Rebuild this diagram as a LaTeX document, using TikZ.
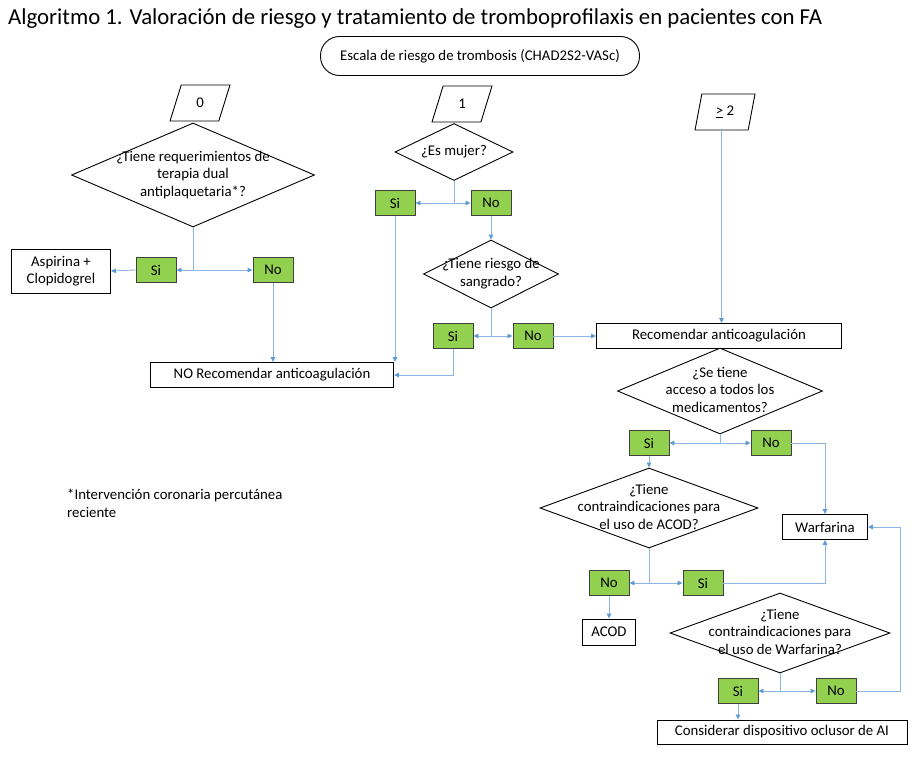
\documentclass[tikz,border=0pt]{standalone}
\usepackage{fontspec}
\setmainfont{Carlito}
\usetikzlibrary{arrows.meta, shapes.geometric, calc}
\definecolor{lineblue}{HTML}{8DB4E2}
\definecolor{tipblue}{HTML}{5B9BD5}
\definecolor{sigreen}{HTML}{92D050}
\newcommand\dtxt[1]{\smash{\raisebox{-0.25em}{\begin{tabular}{@{}c@{}}#1\end{tabular}}}}

\begin{document}
\begin{tikzpicture}[
  x=1pt, y=-1pt,
  font=\fontsize{14.8}{17.5}\selectfont,
  box/.style={
    draw, line width=0.9pt, inner sep=2pt, align=center,
    minimum height=25pt
  },
  resp/.style={
    draw=black!75, fill=sigreen, line width=0.9pt,
    minimum width=40pt, minimum height=25pt, inner sep=0pt
  },
  decis/.style={diamond, draw, line width=0.9pt, inner sep=0pt, shape aspect=3},
  entrada/.style={
    trapezium, trapezium left angle=77, trapezium right angle=103,
    trapezium stretches=true, draw, line width=0.9pt,
    minimum width=60pt, minimum height=36pt, inner sep=0pt
  },
  lin/.style={draw=lineblue, line width=0.9pt},
  arr/.style={lin, -{Triangle[length=5pt, width=4.5pt, color=tipblue]}}
]
  \useasboundingbox (0,0) rectangle (917,757);

  \node[anchor=base west, inner sep=0pt, font=\fontsize{22.8}{26}\selectfont] (titulo) at (8,25)
    {Algoritmo 1. Valoración de riesgo y tratamiento de tromboprofilaxis en pacientes con FA};
  \node[draw, line width=0.9pt, rounded corners=19pt, minimum width=319pt, minimum height=39pt] (escala) at (480,56)
    {Escala de riesgo de trombosis (CHAD2S2-VASc)};

  \node[entrada] (cero) at (200,103) {0};
  \node[entrada] (uno) at (462,104) {1};
  \node[entrada] (dos) at (725,112) {\underline{>} 2};

  \node[decis, minimum width=243pt, minimum height=104pt] (dual) at (193,175)
    {\dtxt{¿Tiene requerimientos de\\terapia dual\\antiplaquetaria*?}};
  \node[resp] (si0) at (156,270) {Si};
  \node[resp] (no0) at (273,270) {No};
  \node[box, minimum width=99pt, minimum height=44pt] (aspirina) at (61,271) {Aspirina +\\Clopidogrel};
  \node[box, minimum width=243pt] (norec) at (272,375) {NO Recomendar anticoagulación};

  \coordinate (j0) at (dual.south |- si0);
  \draw[lin] (dual.south) -- (j0);
  \draw[arr] (j0) -- (si0.east);
  \draw[arr] (j0) -- (no0.west);
  \draw[arr] (si0.west) -- (aspirina.east);
  \draw[arr] (no0.south) -- (no0.south |- norec.north);

  \node[decis, minimum width=118pt, minimum height=57pt] (mujer) at (454,152) {\dtxt{¿Es mujer?}};
  \node[resp] (si1) at (395,203) {Si};
  \node[resp] (no1) at (491,203) {No};
  \node[decis, minimum width=135pt, minimum height=68pt] (sangrado) at (491,274)
    {\dtxt{¿Tiene riesgo de\\sangrado?}};
  \node[resp] (si2) at (453,336) {Si};
  \node[resp] (no2) at (533,336) {No};

  \coordinate (j1) at (mujer.south |- si1);
  \draw[lin] (mujer.south) -- (j1);
  \draw[arr] (j1) -- (si1.east);
  \draw[arr] (j1) -- (no1.west);
  \draw[arr] (si1.south) -- (si1.south |- norec.north);
  \draw[arr] (no1.south) -- (sangrado.north);
  \coordinate (j2) at (sangrado.south |- si2);
  \draw[lin] (sangrado.south) -- (j2);
  \draw[arr] (j2) -- (si2.east);
  \draw[arr] (j2) -- (no2.west);
  \draw[arr] (si2.south) |- (norec.east);

  \node[box, minimum width=245pt] (rec) at (719,336) {Recomendar anticoagulación};
  \draw[arr] (no2.east) -- (rec.west);
  \draw[arr] (dos.bottom side) -- (dos.bottom side |- rec.north);

  \node[decis, minimum width=205pt, minimum height=86pt] (acceso) at (720,391)
    {\dtxt{¿Se tiene\\acceso a todos los\\medicamentos?}};
  \node[resp] (si3) at (649,443) {Si};
  \node[resp] (no3) at (771,443) {No};
  \node[decis, minimum width=218pt, minimum height=80pt] (acod) at (649,508)
    {\dtxt{¿Tiene\\contraindicaciones para\\el uso de ACOD?}};
  \node[box, minimum width=85pt] (warfarina) at (825,527) {Warfarina};

  \coordinate (j3) at (acceso.south |- si3);
  \draw[lin] (acceso.south) -- (j3);
  \draw[arr] (j3) -- (si3.east);
  \draw[arr] (j3) -- (no3.west);
  \draw[arr] (si3.south) -- (acod.north);
  \draw[arr] (no3.east) -| (warfarina.north);

  \node[resp] (no4) at (609,583) {No};
  \node[resp] (si4) at (703,583) {Si};
  \node[box, minimum width=53pt, minimum height=26pt] (acodbox) at (609,632) {ACOD};
  \node[decis, minimum width=220pt, minimum height=80pt] (cwarf) at (780,633)
    {\dtxt{¿Tiene\\contraindicaciones para\\el uso de Warfarina?}};

  \coordinate (j4) at (acod.south |- no4);
  \draw[lin] (acod.south) -- (j4);
  \draw[arr] (j4) -- (no4.east);
  \draw[arr] (j4) -- (si4.west);
  \draw[arr] (no4.south) -- (acodbox.north);
  \draw[arr] (si4.east) -| (warfarina.south);

  \node[resp] (si5) at (738,691) {Si};
  \node[resp] (no5) at (836,691) {No};
  \node[box, minimum width=250pt, minimum height=24pt] (oclusor) at (782,732) {Considerar dispositivo oclusor de AI};

  \coordinate (j5) at (cwarf.south |- si5);
  \draw[lin] (cwarf.south) -- (j5);
  \draw[arr] (j5) -- (si5.east);
  \draw[arr] (j5) -- (no5.west);
  \draw[arr] (si5.south) -- (si5.south |- oclusor.north);
  \draw[arr] (no5.east) -- ++(44,0) |- (warfarina.east);

  \node[align=left, anchor=north west, inner sep=0pt] (nota) at (67,489)
    {*Intervención coronaria percutánea\\reciente};
\end{tikzpicture}
\end{document}
